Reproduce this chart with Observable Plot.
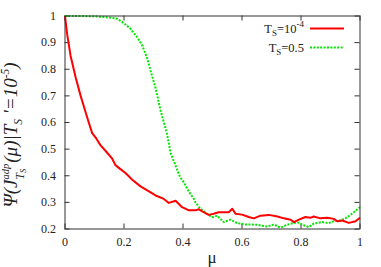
<!DOCTYPE html>
<html><head><meta charset="utf-8">
<script src="https://cdn.jsdelivr.net/npm/d3@7"></script>
<script src="https://cdn.jsdelivr.net/npm/@observablehq/plot@0.6"></script>
<style>body{margin:0;background:#fff}</style>
</head><body><div id="chart"></div>
<script>
const muRed = [0,0.0075,0.019,0.036,0.053,0.064,0.075,0.092,0.106,0.12,0.14,0.16,0.171,0.188,0.205,0.228,0.256,0.279,0.307,0.335,0.352,0.375,0.397,0.42,0.442,0.454,0.47,0.487,0.504,0.521,0.538,0.555,0.567,0.578,0.6,0.623,0.64,0.663,0.691,0.72,0.742,0.765,0.776,0.793,0.815,0.832,0.843,0.866,0.889,0.911,0.923,0.94,0.962,0.985,1];
const psiRed = [1,0.93,0.85,0.77,0.70,0.66,0.62,0.56,0.54,0.515,0.49,0.464,0.44,0.425,0.41,0.385,0.36,0.345,0.326,0.313,0.298,0.306,0.282,0.27,0.27,0.274,0.263,0.253,0.257,0.263,0.263,0.263,0.276,0.257,0.254,0.245,0.24,0.25,0.253,0.247,0.24,0.235,0.226,0.235,0.245,0.242,0.247,0.24,0.242,0.238,0.229,0.232,0.223,0.229,0.242];
const muGreen = [0,0.05,0.1,0.143,0.177,0.2,0.222,0.245,0.262,0.279,0.29,0.307,0.324,0.346,0.358,0.375,0.39,0.403,0.414,0.425,0.437,0.442,0.459,0.482,0.499,0.516,0.538,0.561,0.584,0.612,0.651,0.685,0.708,0.731,0.753,0.787,0.81,0.826,0.843,0.872,0.894,0.911,0.934,0.957,0.979,1];
const psiGreen = [1,1,0.999,0.995,0.99,0.973,0.952,0.92,0.889,0.84,0.795,0.73,0.645,0.557,0.485,0.438,0.395,0.375,0.351,0.332,0.313,0.3,0.276,0.257,0.244,0.25,0.226,0.235,0.222,0.217,0.216,0.209,0.217,0.205,0.216,0.226,0.214,0.207,0.22,0.226,0.222,0.229,0.232,0.244,0.263,0.282];
const xTicks = [0,0.2,0.4,0.6,0.8,1];
const yTicks = [0.2,0.3,0.4,0.5,0.6,0.7,0.8,0.9,1];
const xTickLabels = ["0","0.2","0.4","0.6","0.8","1"];
const yTickLabels = ["0.2","0.3","0.4","0.5","0.6","0.7","0.8","0.9","1"];

const red = muRed.map((m,i)=>({mu:m, psi:psiRed[i]}));
const green = muGreen.map((m,i)=>({mu:m, psi:psiGreen[i]}));

const W = 381, H = 267, mL = 64.5, mR = 21.5, mT = 15.5, mB = 38.5;
const pw = W - mL - mR, ph = H - mT - mB;
const axisColor = "#333";
const serif = "'Liberation Serif', 'Times New Roman', 'DejaVu Serif', serif";
const greenColor = "#00e600";
const dots = "2,1.4";

const chart = Plot.plot({
  width: W, height: H,
  marginLeft: mL, marginRight: mR, marginTop: mT, marginBottom: mB,
  style: {fontFamily: serif, fontSize: "12px", color: "#222", background: "#fff"},
  x: {domain: [0,1], label: null},
  y: {domain: [0.2,1], label: null},
  marks: [
    Plot.axisX(xTicks, {tickSize: 0, tickPadding: 8, tickFormat: (d,i)=>xTickLabels[i], label: null, fill: "#222"}),
    Plot.axisY(yTicks, {tickSize: 0, tickPadding: 9, tickFormat: (d,i)=>yTickLabels[i], label: null, fill: "#222"}),
    Plot.ruleX(xTicks, {x: d=>d, insetTop: ph-5, stroke: axisColor}),
    Plot.ruleX(xTicks, {x: d=>d, insetBottom: ph-5, stroke: axisColor}),
    Plot.ruleY(yTicks, {y: d=>d, insetRight: pw-5, stroke: axisColor}),
    Plot.ruleY(yTicks, {y: d=>d, insetLeft: pw-5, stroke: axisColor}),
    Plot.line(green, {x:"mu", y:"psi", stroke: greenColor, strokeWidth:2, strokeDasharray: dots, strokeLinecap:"butt", strokeLinejoin:"miter"}),
    Plot.line(red, {x:"mu", y:"psi", stroke:"#ff0000", strokeWidth:2, strokeLinecap:"butt"}),
    Plot.frame({stroke: axisColor, strokeWidth: 1})
  ]
});
document.getElementById("chart").appendChild(chart);

const svg = d3.select(chart);
svg.selectAll("text").attr("font-family", serif).style("font-family", serif);

// x-axis label
svg.append("text").attr("x", mL + pw/2).attr("y", 263).attr("text-anchor","middle")
  .style("font-family", serif).attr("font-size", 17).attr("fill","#222").text("μ");

// y-axis label
const yl = svg.append("text").attr("transform", `translate(17,${mT + ph/2 + 13}) rotate(-90)`)
  .attr("text-anchor","middle").style("font-family", serif).attr("font-size", 19)
  .attr("font-style","italic").attr("fill","#222");
yl.append("tspan").text("Ψ(J");
const supA = yl.append("tspan").attr("font-size", 10.5).attr("dy", -8).text("adp");
const wA = supA.node().getComputedTextLength();
const subT = yl.append("tspan").attr("font-size", 11.5).attr("dx", -wA).attr("dy", 15).text("T");
const subS = yl.append("tspan").attr("font-size", 8.5).attr("dy", 2).text("S");
const wT = subT.node().getComputedTextLength() + subS.node().getComputedTextLength();
yl.append("tspan").attr("dx", Math.max(0, wA - wT) + 1).attr("dy", -9).text("(μ)|T");
yl.append("tspan").attr("font-size", 11.5).attr("dy", 5).text("S");
yl.append("tspan").attr("dy", -5).text(" '=10");
yl.append("tspan").attr("font-size", 11.5).attr("dy", -8).text("-5");
yl.append("tspan").attr("dy", 8).text(")");

// legend
const legend = [
  {main:"T", sub:"S", rest:"=10", sup:"-4", color:"#ff0000", dash:null, y:28.5},
  {main:"T", sub:"S", rest:"=0.5", sup:"", color:greenColor, dash:dots, y:47.5}
];
legend.forEach(l=>{
  const t = svg.append("text").attr("x", 304).attr("y", l.y + 4).attr("text-anchor","end")
    .style("font-family", serif).attr("font-size", 12.5).attr("fill","#222");
  t.append("tspan").text(l.main);
  t.append("tspan").attr("font-size", 9).attr("dy", 3).text(l.sub);
  t.append("tspan").attr("dy", -3).text(l.rest);
  if (l.sup) t.append("tspan").attr("font-size", 9).attr("dy", -6).text(l.sup);
  const ln = svg.append("line").attr("x1", 310).attr("x2", 344).attr("y1", l.y).attr("y2", l.y)
    .attr("stroke", l.color).attr("stroke-width", 2);
  if (l.dash) ln.attr("stroke-dasharray", l.dash);
});
</script></body></html>
